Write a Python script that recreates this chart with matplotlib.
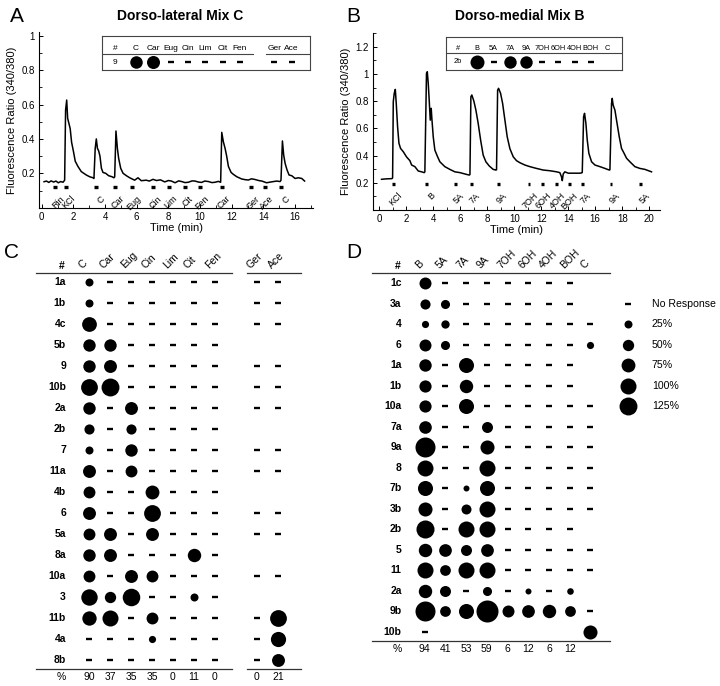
import matplotlib
matplotlib.use("Agg")
import matplotlib.pyplot as plt
from matplotlib.ticker import MultipleLocator, FormatStrFormatter

plt.rcParams["font.family"] = ["Liberation Sans", "DejaVu Sans"]

# ============================================================
# Data: calcium traces (time in min, fluorescence ratio 340/380)
# ============================================================
a_time = [0.15, 0.3, 0.45, 0.6, 0.75, 0.9, 1.05, 1.2, 1.35, 1.45,
          1.51, 1.58, 1.64, 1.72, 1.80, 1.89, 2.00, 2.12, 2.29, 2.50,
          2.82, 3.03, 3.24, 3.30, 3.38, 3.45, 3.52, 3.60, 3.68, 3.77,
          3.87, 4.04, 4.23, 4.44, 4.56, 4.61, 4.69, 4.78, 4.86, 4.99,
          5.14, 5.35, 5.56, 5.87, 6.08, 6.29, 6.60, 6.80, 7.03, 7.25,
          7.50, 7.77, 8.00, 8.19, 8.42, 8.65, 8.84, 9.05, 9.26, 9.50,
          9.68, 9.90, 10.10, 10.30, 10.53, 10.75, 10.95, 11.15, 11.30, 11.37,
          11.47, 11.58, 11.68, 11.79, 11.96, 12.10, 12.32, 12.63, 12.85, 13.05,
          13.25, 13.47, 13.70, 13.90, 14.20, 14.50, 14.84, 15.05, 15.11, 15.20,
          15.28, 15.37, 15.49, 15.62, 15.79, 16.00, 16.21, 16.42, 16.60]
a_ratio = [0.151, 0.155, 0.147, 0.156, 0.149, 0.155, 0.145, 0.152, 0.148, 0.160,
           0.568, 0.626, 0.520, 0.490, 0.460, 0.380, 0.330, 0.270, 0.240, 0.210,
           0.190, 0.180, 0.174, 0.170, 0.345, 0.400, 0.345, 0.330, 0.300, 0.230,
           0.205, 0.200, 0.186, 0.180, 0.174, 0.180, 0.446, 0.345, 0.287, 0.229,
           0.200, 0.186, 0.174, 0.160, 0.174, 0.157, 0.160, 0.155, 0.165, 0.158,
           0.162, 0.150, 0.158, 0.155, 0.145, 0.156, 0.152, 0.146, 0.148, 0.156,
           0.155, 0.149, 0.147, 0.155, 0.152, 0.146, 0.148, 0.153, 0.148, 0.438,
           0.384, 0.345, 0.300, 0.240, 0.205, 0.194, 0.180, 0.167, 0.163, 0.161,
           0.168, 0.164, 0.158, 0.155, 0.145, 0.150, 0.155, 0.152, 0.160, 0.388,
           0.306, 0.258, 0.220, 0.190, 0.186, 0.170, 0.174, 0.170, 0.155]

b_time = [0.17, 0.50, 0.94, 0.99, 1.04, 1.11, 1.19, 1.26, 1.36, 1.46,
          1.58, 1.78, 2.02, 2.27, 2.40, 2.64, 2.89, 3.14, 3.33, 3.38,
          3.50, 3.56, 3.63, 3.70, 3.78, 3.85, 3.90, 4.00, 4.12, 4.30,
          4.49, 4.86, 5.23, 5.60, 5.98, 6.35, 6.67, 6.72, 6.79, 6.86,
          7.01, 7.16, 7.33, 7.51, 7.70, 7.90, 8.15, 8.44, 8.64, 8.69,
          8.77, 8.84, 8.99, 9.14, 9.31, 9.48, 9.68, 9.93, 10.17, 10.42,
          10.79, 11.16, 11.65, 12.15, 12.64, 13.14, 13.38, 13.50, 13.56, 13.63,
          13.75, 14.00, 14.37, 14.86, 14.99, 15.04, 15.14, 15.21, 15.31, 15.41,
          15.53, 15.73, 15.98, 16.35, 16.72, 17.04, 17.09, 17.21, 17.26, 17.33,
          17.46, 17.58, 17.78, 17.95, 18.12, 18.32, 18.57, 18.94, 19.31, 19.68,
          20.17]
b_ratio = [0.225, 0.228, 0.230, 0.235, 0.795, 0.857, 0.886, 0.783, 0.610, 0.490,
           0.452, 0.428, 0.390, 0.362, 0.330, 0.318, 0.286, 0.280, 0.274, 0.280,
           1.004, 1.016, 0.930, 0.810, 0.660, 0.747, 0.670, 0.538, 0.440, 0.396,
           0.354, 0.318, 0.298, 0.280, 0.274, 0.264, 0.256, 0.260, 0.832, 0.845,
           0.800, 0.734, 0.636, 0.514, 0.403, 0.354, 0.323, 0.298, 0.293, 0.295,
           0.880, 0.894, 0.857, 0.783, 0.660, 0.538, 0.450, 0.390, 0.362, 0.347,
           0.330, 0.318, 0.305, 0.293, 0.288, 0.280, 0.274, 0.244, 0.215, 0.264,
           0.280, 0.270, 0.270, 0.270, 0.272, 0.275, 0.685, 0.710, 0.636, 0.514,
           0.416, 0.354, 0.330, 0.318, 0.305, 0.293, 0.295, 0.783, 0.820, 0.770,
           0.734, 0.660, 0.538, 0.452, 0.420, 0.380, 0.354, 0.318, 0.305, 0.298,
           0.280]

# stimulus applications (label, onset in min)
a_stim = ["Rin", "KCl", "C", "Car", "Eug", "Cin", "Lim", "Cit", "Fen", "Car", "Ger", "Ace", "C"]
a_stim_on = [0.74, 1.41, 3.30, 4.53, 5.58, 6.88, 7.90, 8.90, 9.90, 11.26, 13.10, 13.96, 15.00]
b_stim = ["KCl", "B", "5A", "7A", "9A", "7OH", "6OH", "4OH", "BOH", "7A", "9A", "5A"]
b_stim_on = [0.94, 3.40, 5.55, 6.74, 8.71, 10.99, 12.00, 13.04, 13.97, 14.96, 17.06, 19.28]

# ============================================================
# Data: response tables (% response, 0 = no response, None = not tested)
# ============================================================
c_cols = ["C", "Car", "Eug", "Cin", "Lim", "Cit", "Fen", "Ger", "Ace"]
c_rows = ["1a", "1b", "4c", "5b", "9", "10b", "2a", "2b", "7", "11a",
          "4b", "6", "5a", "8a", "10a", "3", "11b", "4a", "8b"]
c_vals = [
    [25, 0, 0, 0, 0, 0, 0, 0, 0],
    [25, 0, 0, 0, 0, 0, 0, 0, 0],
    [85, 0, 0, 0, 0, 0, 0, 0, 0],
    [60, 60, 0, 0, 0, 0, 0, None, None],
    [60, 65, 0, 0, 0, 0, 0, 0, 0],
    [110, 125, 0, 0, 0, 0, 0, 0, 0],
    [60, 0, 65, 0, 0, 0, 0, 0, 0],
    [40, 0, 40, 0, 0, 0, 0, None, None],
    [25, 0, 60, 0, 0, 0, 0, 0, 0],
    [65, 0, 55, 0, 0, 0, 0, 0, 0],
    [55, 0, 0, 75, 0, 0, 0, None, None],
    [65, 0, 0, 110, 0, 0, 0, 0, 0],
    [55, 65, 0, 65, 0, 0, 0, 0, 0],
    [60, 65, 0, 0, 0, 70, 0, None, None],
    [55, 0, 65, 55, 0, 0, 0, 0, 0],
    [105, 50, 120, 0, 0, 25, 0, None, None],
    [80, 100, 0, 55, 0, 0, 0, 0, 110],
    [0, 0, 0, 20, 0, 0, 0, 0, 90],
    [0, 0, 0, 0, 0, 0, 0, 0, 65],
]
c_pct = ["90", "37", "35", "35", "0", "11", "0", "0", "21"]

d_cols = ["B", "5A", "7A", "9A", "7OH", "6OH", "4OH", "BOH", "C"]
d_rows = ["1c", "3a", "4", "6", "1a", "1b", "10a", "7a", "9a", "8",
          "7b", "3b", "2b", "5", "11", "2a", "9b", "10b"]
d_vals = [
    [56, 0, 0, 0, 0, 0, 0, 0, None],
    [40, 32, 0, 0, 0, 0, 0, 0, None],
    [20, 27, 0, 0, 0, 0, 0, 0, 0],
    [56, 32, 0, 0, 0, 0, 0, 0, 20],
    [60, 0, 88, 0, 0, 0, 0, 0, None],
    [58, 0, 70, 0, 0, 0, 0, 0, None],
    [58, 0, 88, 0, 0, 0, 0, 0, 0],
    [62, 0, 0, 47, 0, 0, 0, 0, 0],
    [156, 0, 0, 77, 0, 0, 0, 0, 0],
    [100, 0, 0, 100, 0, 0, 0, 0, 0],
    [88, 0, 14, 88, 0, 0, 0, 0, 0],
    [77, 0, 39, 100, 0, 0, 0, 0, 0],
    [127, 0, 100, 100, 0, 0, 0, 0, None],
    [70, 63, 47, 63, 0, 0, 0, 0, 0],
    [100, 45, 100, 100, 0, 0, 0, 0, 0],
    [70, 47, 0, 32, 0, 14, 0, 17, None],
    [156, 45, 88, 189, 56, 63, 70, 45, 0],
    [0, None, None, None, None, None, None, None, 77],
]
d_pct = ["94", "41", "53", "59", "6", "12", "6", "12", ""]

legend_pct = [25, 50, 75, 100, 125]

# ============================================================
# Figure helpers (layout in pixels)
# ============================================================
W, H = 720, 686
fig = plt.figure(figsize=(W / 100, H / 100), dpi=100)
DOT = 1.33      # marker area (pt^2) per % response in the tables
DASH = dict(marker="_", s=13, linewidths=1.7, c="black")
TFS = 7.5       # table font size


def px_axes(x0, y0, x1, y1):
    return fig.add_axes([x0 / W, 1 - y1 / H, (x1 - x0) / W, (y1 - y0) / H])


def fig_text(x, y, s, **kw):
    fig.text(x / W, 1 - y / H, s, **kw)


def draw_cells(ax, col_x, vals, scale, row_y=None):
    for r, row in enumerate(vals):
        y = r if row_y is None else row_y
        for x, v in zip(col_x, row):
            if v is None:
                continue
            if v == 0:
                ax.scatter(x, y, **DASH)
            else:
                ax.scatter(x, y, s=scale * v, c="black", linewidths=0)


def trace_panel(ax, t, v, stim, onsets, dur, ybar, xmax, ymax, ymin_tick):
    ax.plot(t, v, color="black", lw=1.1)
    for lbl, t0 in zip(stim, onsets):
        ax.plot([t0, t0 + dur], [ybar, ybar], color="black", lw=2.4, solid_capstyle="butt")
        ax.annotate(lbl, (t0 + dur / 2, ybar), xytext=(3, -5), textcoords="offset points",
                    rotation=45, ha="right", va="top", rotation_mode="anchor", fontsize=6.5)
    ax.set_ylim(0, ymax)
    ax.spines["top"].set_visible(False)
    ax.spines["right"].set_visible(False)
    ax.spines["left"].set_linewidth(0.8)
    ax.spines["bottom"].set_linewidth(0.8)
    ax.set_xticks(range(0, xmax + 1, 2))
    ax.xaxis.set_minor_locator(MultipleLocator(1))
    ax.set_yticks([y / 10 for y in range(2, ymin_tick + 1, 2)])
    ax.yaxis.set_minor_locator(MultipleLocator(0.1))
    ax.yaxis.set_major_formatter(FormatStrFormatter("%g"))
    ax.tick_params(which="both", direction="in", labelsize=7, pad=3)
    ax.tick_params(which="major", length=3, width=0.7)
    ax.tick_params(which="minor", length=2, width=0.6)
    ax.set_xlabel("Time (min)", fontsize=8, labelpad=1)
    ax.set_ylabel("Fluorescence Ratio (340/380)", fontsize=8, labelpad=3)
    ax.patch.set_alpha(0)


def inset_box(x0, y0, x1, y1, col0, dcol, row_px, head_px, line_px, cols, col_x,
              row_label, row_vals, scale, spans, fs):
    ax = px_axes(x0, y0, x1, y1)
    ax.set_xlim((x0 - col0) / dcol, (x1 - col0) / dcol)
    unit = row_px - head_px
    ax.set_ylim((y1 - row_px) / unit, (y0 - row_px) / unit)
    ax.set_xticks([])
    ax.set_yticks([])
    for sp in ax.spines.values():
        sp.set_linewidth(0.8)
        sp.set_color("#444444")
    ly = (line_px - row_px) / unit
    for a, b in spans:
        ax.plot([a, b], [ly, ly], color="#444444", lw=0.8)
    ax.text(-1.21, -1, "#", fontsize=fs, ha="center", va="center")
    ax.text(-1.21, 0, row_label, fontsize=fs, ha="center", va="center")
    for x, c in zip(col_x, cols):
        ax.text(x, -1, c, fontsize=fs, ha="center", va="center")
    draw_cells(ax, col_x, [row_vals], scale, row_y=0)
    return ax


def table_panel(box, col0, dcol, row0, drow, cols, col_x, rows, vals, pct, spans,
                line_top, line_bot, pct_y, label_x):
    x0, y0, x1, y1 = box
    ax = px_axes(x0, y0, x1, y1)
    ax.set_xlim((x0 - col0) / dcol, (x1 - col0) / dcol)
    ax.set_ylim((y1 - row0) / drow, (y0 - row0) / drow)
    ax.axis("off")
    for a, b in spans:
        ax.plot([a, b], [line_top, line_top], color="#333333", lw=0.9)
        ax.plot([a, b], [line_bot, line_bot], color="#333333", lw=0.9)
    ax.text(label_x - 0.2, line_top - 0.33, "#", fontsize=TFS, ha="center", va="center",
            fontweight="bold")
    for x, c in zip(col_x, cols):
        ax.text(x - 0.22, line_top - 0.12, c, fontsize=TFS, rotation=45,
                rotation_mode="anchor", ha="left", va="bottom")
    for r, lbl in enumerate(rows):
        ax.text(label_x, r, lbl, fontsize=TFS, ha="right", va="center", fontweight="bold")
    ax.text(label_x - 0.2, pct_y, "%", fontsize=TFS, ha="center", va="center")
    for x, p in zip(col_x, pct):
        ax.text(x, pct_y, p, fontsize=TFS, ha="center", va="center")
    draw_cells(ax, col_x, vals, DOT)
    return ax


# ============================================================
# Panel A
# ============================================================
ax_a = px_axes(39.3, 32.3, 313.3, 207.7)
ax_a.set_xlim(-0.15, 17.15)
trace_panel(ax_a, a_time, a_ratio, a_stim, a_stim_on, 0.25, 0.12, 16, 1.02, 10)

c_col_x = [0, 1, 2, 3, 4, 5, 6, 8, 9]
inset_box(101.7, 36, 310, 70, 136, 17.3, 62, 49, 53.7, c_cols, c_col_x,
          "9", c_vals[c_rows.index("9")], 1.35, [(-2.0, 6.77), (7.51, 10.1)], 6)

# ============================================================
# Panel B
# ============================================================
ax_b = px_axes(373.3, 33.1, 660, 209.9)
ax_b.set_xlim(-0.44, 20.8)
trace_panel(ax_b, b_time, b_ratio, b_stim, b_stim_on, 0.2, 0.19, 20, 1.3, 12)

d_col_x = list(range(9))
inset_box(446, 37.3, 621.7, 70, 477.3, 16.2, 61.7, 48.3, 53.3, d_cols, d_col_x,
          "2b", d_vals[d_rows.index("2b")], 0.8, [(-2.0, 9.0)], 5.3)

# ============================================================
# Panel C
# ============================================================
table_panel((0, 215, 335, 686), 89, 21, 282.3, 20.98, c_cols, c_col_x, c_rows, c_vals,
            c_pct, [(-2.52, 6.8), (7.52, 10.1)], -0.46, 18.45, 18.83, -1.1)

# ============================================================
# Panel D (+ size legend)
# ============================================================
ax_d = table_panel((340, 215, 720, 686), 424.7, 20.7, 283.3, 20.5, d_cols, d_col_x, d_rows,
                   d_vals, d_pct, [(-2.55, 8.95)], -0.49, 17.45, 17.85, -1.11)
ax_d.scatter(9.84, 1, **DASH)
ax_d.text(10.97, 1, "No Response", fontsize=7.6, ha="left", va="center")
for i, p in enumerate(legend_pct):
    ax_d.scatter(9.84, 2 + i, s=DOT * p, c="black", linewidths=0)
    ax_d.text(10.97, 2 + i, f"{p}%", fontsize=7.6, ha="left", va="center")

# ============================================================
# Titles and panel letters
# ============================================================
fig_text(180, 16.5, "Dorso-lateral Mix C", fontsize=10, fontweight="bold", ha="center", va="center")
fig_text(520, 16.5, "Dorso-medial Mix B", fontsize=10, fontweight="bold", ha="center", va="center")
fig_text(10, 17, "A", fontsize=15, ha="left", va="center")
fig_text(346, 17, "B", fontsize=15, ha="left", va="center")
fig_text(4, 253, "C", fontsize=15, ha="left", va="center")
fig_text(346, 253, "D", fontsize=15, ha="left", va="center")

fig.savefig("out.png", dpi=100, facecolor="white")
